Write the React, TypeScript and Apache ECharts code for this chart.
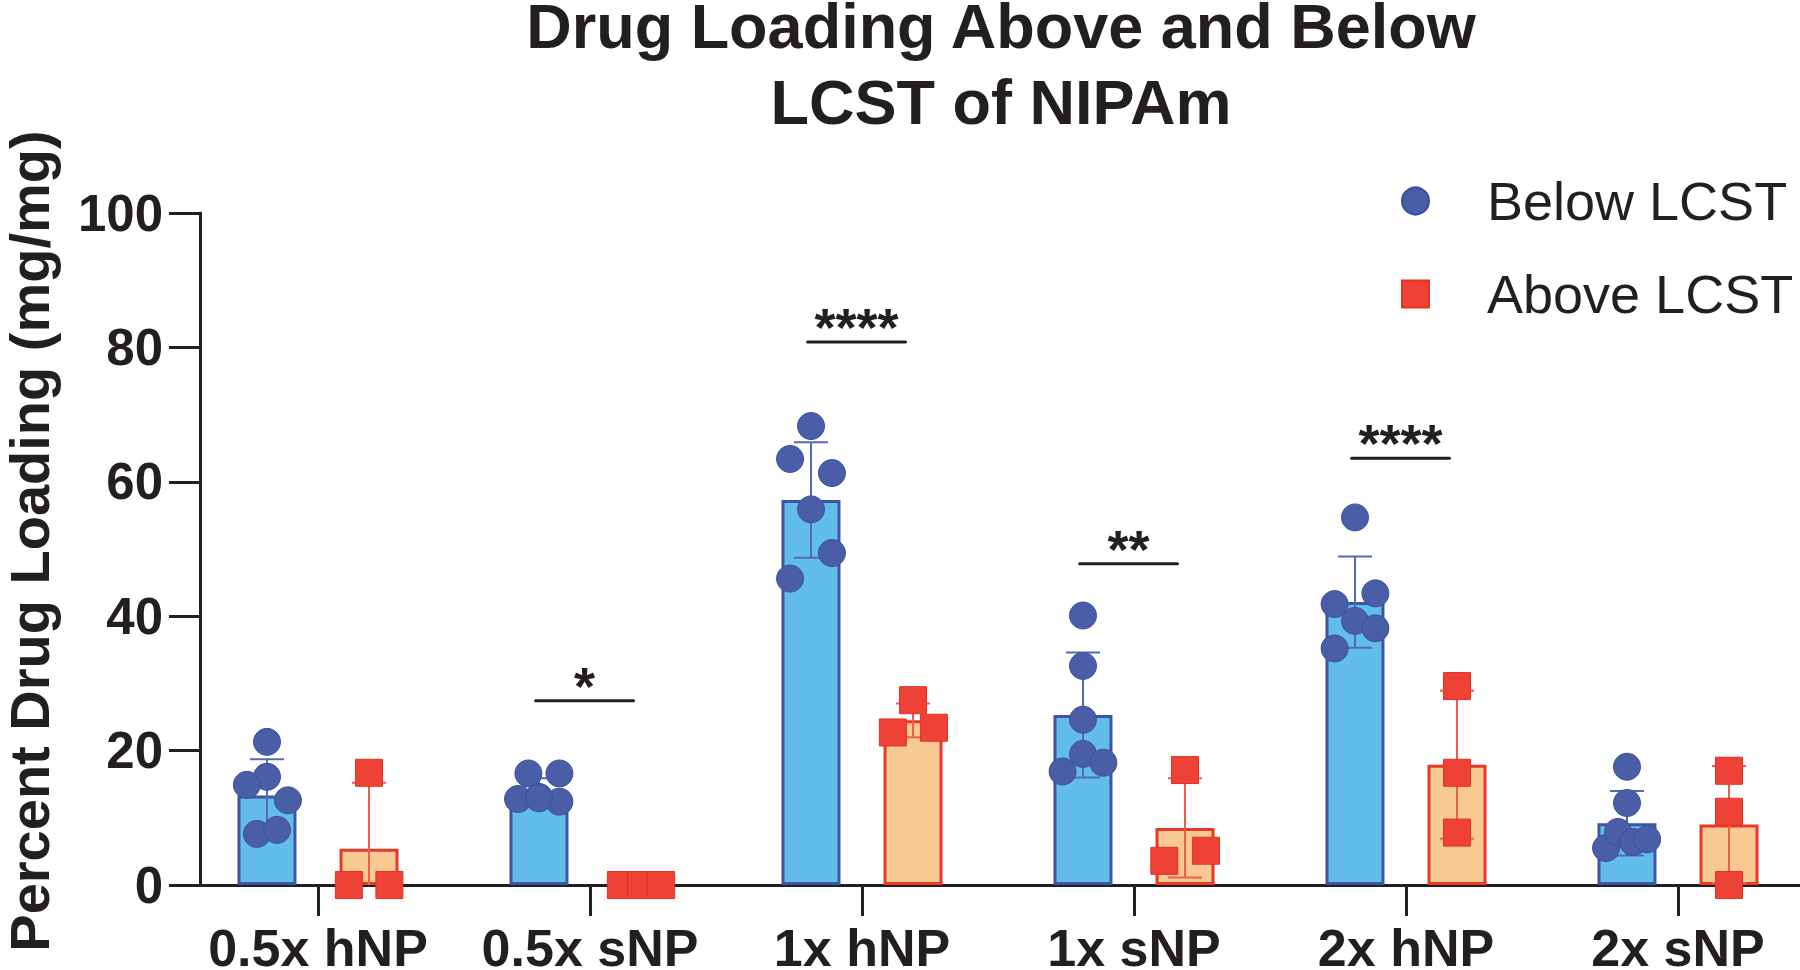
import React, { useEffect, useRef } from 'react';
import * as echarts from 'echarts';

// ---------- data ----------
const categories = ['0.5x hNP', '0.5x sNP', '1x hNP', '1x sNP', '2x hNP', '2x sNP'];
const seriesNames = ['Below LCST', 'Above LCST'];
const yTicks = [0, 20, 40, 60, 80, 100];

const belowMean = [13.3, 14.0, 57.3, 25.3, 42.1, 9.2];
const belowSD = [5.4, 1.9, 8.6, 9.3, 6.8, 4.8];
const aboveMean = [5.4, 0, 24.5, 8.5, 17.9, 9.0];
const aboveSD = [9.8, 0, 2.5, 7.4, 11.0, 8.7];

const belowPoints = [
  [21.3, 16.1, 14.9, 12.6, 7.6, 8.2],
  [16.6, 16.6, 12.8, 13.1, 12.4, 12.9],
  [68.3, 63.4, 61.3, 55.9, 49.4, 45.6],
  [40.1, 32.6, 24.6, 19.5, 16.9, 18.2],
  [54.7, 43.4, 41.8, 39.3, 38.2, 35.2],
  [17.6, 12.2, 5.5, 7.9, 6.4, 6.8],
];
// horizontal jitter of each point, in category widths
const belowJitter = [
  [0, 0, -0.074, 0.077, -0.037, 0.037],
  [-0.039, 0.075, -0.077, 0, 0.075, 0],
  [0, -0.077, 0.077, 0, 0.077, -0.077],
  [0, 0, 0, 0, -0.075, 0.075],
  [0, 0.075, -0.075, 0, 0.075, -0.075],
  [0, 0, -0.077, -0.033, 0.022, 0.074],
];
const abovePoints = [
  [16.7, 0, 0],
  [0, 0, 0],
  [27.5, 22.7, 23.4],
  [17.1, 3.6, 5.1],
  [29.6, 16.7, 7.8],
  [17.0, 10.9, 0],
];
const aboveJitter = [
  [0, -0.074, 0.075],
  [-0.074, 0, 0.074],
  [0, -0.074, 0.077],
  [0, -0.076, 0.077],
  [0, 0, 0],
  [0, 0, 0],
];

const sigCategories = [1, 2, 3, 4];
const sigHeights = [27.4, 80.8, 47.8, 63.5];
const sigLabels = ['*', '****', '**', '****'];

// ---------- style ----------
const FONT = '"Liberation Sans", Arial, Helvetica, sans-serif';
const INK = '#231f20';
const BLUE_FILL = '#63bde9';
const BLUE_EDGE = '#3f54a5';
const BLUE_DOT = '#4a5ea8';
const BLUE_ERR = '#5669b5';
const ORANGE_FILL = '#f6ca92';
const RED_EDGE = '#e9372a';
const RED_DOT = '#ee4236';
const RED_ERR = '#ef5e4c';

const GRID_LEFT = 182;
const BAND = 272;
const BAR_W = 59;
const BAR_GAP = 43;
const OFF = (BAR_W + BAR_GAP) / 2 / BAND;

export default function App() {
  const ref = useRef<HTMLDivElement>(null);

  useEffect(() => {
    document.body.style.margin = '0';
    const chart = echarts.init(ref.current!, null, { renderer: 'svg' });

    const blueScatter: number[][] = [];
    belowPoints.forEach((arr, i) =>
      arr.forEach((v, j) => blueScatter.push([i - OFF + belowJitter[i][j], v]))
    );
    const redScatter: number[][] = [];
    abovePoints.forEach((arr, i) =>
      arr.forEach((v, j) => redScatter.push([i + OFF + aboveJitter[i][j], v]))
    );

    const errData = (means: number[], sds: number[], sign: number) =>
      means.map((m, i) => [i + sign * OFF, m, sds[i]]);

    const errRender = (color: string) => (params: any, api: any) => {
      const x = api.value(0);
      const m = api.value(1);
      const s = api.value(2);
      if (!(s > 0)) return null;
      const hi = api.coord([x, m + s]);
      const lo = api.coord([x, Math.max(0, m - s)]);
      const style = { stroke: color, lineWidth: 2 };
      const cap = 17;
      const children: any[] = [
        { type: 'line', shape: { x1: hi[0], y1: hi[1], x2: lo[0], y2: lo[1] }, style },
        { type: 'line', shape: { x1: hi[0] - cap, y1: hi[1], x2: hi[0] + cap, y2: hi[1] }, style },
      ];
      if (m - s >= 0) {
        children.push({ type: 'line', shape: { x1: lo[0] - cap, y1: lo[1], x2: lo[0] + cap, y2: lo[1] }, style });
      }
      return { type: 'group', children };
    };

    const sigData = sigCategories.map((c, i) => [c, sigHeights[i], i]);

    const option: any = {
      animation: false,
      backgroundColor: '#ffffff',
      textStyle: { fontFamily: FONT },
      title: {
        text: 'Drug Loading Above and Below\nLCST of NIPAm',
        left: 1001,
        top: -12,
        padding: 0,
        textAlign: 'center',
        textStyle: { fontSize: 63, fontWeight: 'bold', lineHeight: 76, color: INK, fontFamily: FONT },
      },
      legend: {
        orient: 'vertical',
        left: 1396,
        top: 166,
        itemWidth: 27,
        itemHeight: 27,
        itemGap: 33,
        selectedMode: false,
        textStyle: { fontSize: 54, color: INK, fontFamily: FONT, lineHeight: 60, padding: [0, 0, 0, 53] },
        data: [
          { name: seriesNames[0], icon: 'circle' },
          { name: seriesNames[1], icon: 'rect' },
        ],
      },
      grid: {
        left: GRID_LEFT,
        top: 213,
        width: BAND * categories.length,
        height: 672,
        containLabel: false,
        outerBoundsMode: 'none',
      },
      xAxis: [
        {
          type: 'category',
          data: categories,
          axisLine: { show: true, onZero: true, lineStyle: { color: INK, width: 3 } },
          axisTick: { show: true, alignWithLabel: true, length: 31, lineStyle: { color: INK, width: 3 } },
          axisLabel: {
            interval: 0,
            fontSize: 52,
            lineHeight: 44,
            fontWeight: 'bold',
            color: INK,
            margin: 41,
            fontFamily: FONT,
          },
          splitLine: { show: false },
        },
        { type: 'value', min: -0.5, max: 5.5, show: false },
      ],
      yAxis: {
        type: 'value',
        min: 0,
        max: 100,
        interval: 20,
        offset: -18,
        name: 'Percent Drug Loading (mg/mg)',
        nameLocation: 'middle',
        nameGap: 146,
        nameTextStyle: {
          fontSize: 56,
          lineHeight: 50,
          fontWeight: 'bold',
          color: INK,
          fontFamily: FONT,
          padding: [0, 0, 0, 16],
        },
        axisLine: { show: true, onZero: false, lineStyle: { color: INK, width: 3 } },
        axisTick: { show: true, length: 31, lineStyle: { color: INK, width: 3 } },
        axisLabel: {
          fontSize: 51,
          fontWeight: 'bold',
          color: INK,
          margin: 37,
          fontFamily: FONT,
          formatter: (v: number) => (yTicks.includes(v) ? String(v) : ''),
        },
        splitLine: { show: false },
      },
      series: [
        {
          name: 'Below LCST mean',
          type: 'bar',
          xAxisIndex: 0,
          barWidth: BAR_W,
          barGap: `${Math.round((BAR_GAP / BAR_W) * 100)}%`,
          data: belowMean,
          itemStyle: { color: BLUE_FILL, borderColor: BLUE_EDGE, borderWidth: 3 },
          z: 1,
        },
        {
          name: 'Above LCST mean',
          type: 'bar',
          xAxisIndex: 0,
          barWidth: BAR_W,
          data: aboveMean,
          itemStyle: { color: ORANGE_FILL, borderColor: RED_EDGE, borderWidth: 3 },
          z: 1,
        },
        {
          name: 'Below LCST SD',
          type: 'custom',
          xAxisIndex: 1,
          data: errData(belowMean, belowSD, -1),
          renderItem: errRender(BLUE_ERR),
          z: 2,
        },
        {
          name: 'Above LCST SD',
          type: 'custom',
          xAxisIndex: 1,
          data: errData(aboveMean, aboveSD, 1),
          renderItem: errRender(RED_ERR),
          z: 2,
        },
        {
          name: seriesNames[0],
          type: 'scatter',
          xAxisIndex: 1,
          symbol: 'circle',
          symbolSize: 27,
          data: blueScatter,
          itemStyle: { color: BLUE_DOT, borderColor: '#3a4f9c', borderWidth: 1, opacity: 1 },
          z: 3,
        },
        {
          name: seriesNames[1],
          type: 'scatter',
          xAxisIndex: 1,
          symbol: 'rect',
          symbolSize: 27,
          data: redScatter,
          itemStyle: { color: RED_DOT, borderColor: '#e5311f', borderWidth: 1, opacity: 1 },
          z: 3,
        },
        {
          name: 'significance',
          type: 'custom',
          xAxisIndex: 1,
          data: sigData,
          z: 4,
          renderItem: (params: any, api: any) => {
            const c = api.value(0);
            const h = api.value(1);
            const idx = api.value(2);
            const a = api.coord([c - 0.2, h]);
            const b = api.coord([c + 0.16, h]);
            const mid = (a[0] + b[0]) / 2;
            return {
              type: 'group',
              children: [
                {
                  type: 'line',
                  shape: { x1: a[0], y1: a[1], x2: b[0], y2: b[1] },
                  style: { stroke: INK, lineWidth: 3, lineCap: 'round' },
                },
                {
                  type: 'text',
                  x: mid,
                  y: a[1] - 15,
                  style: {
                    text: sigLabels[idx],
                    fill: INK,
                    font: `bold 54px ${FONT}`,
                    textAlign: 'center',
                    textVerticalAlign: 'middle',
                  },
                },
              ],
            };
          },
        },
      ],
    };

    chart.setOption(option);
    return () => chart.dispose();
  }, []);

  return <div ref={ref} style={{ width: 1800, height: 970 }} />;
}
